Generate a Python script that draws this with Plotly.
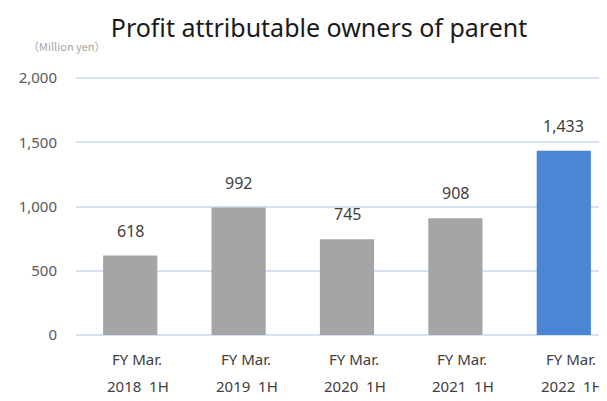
import plotly.graph_objects as go

categories = ["FY Mar. 2018 1H", "FY Mar. 2019 1H", "FY Mar. 2020 1H", "FY Mar. 2021 1H", "FY Mar. 2022 1H"]
label_line1 = ["FY Mar.", "FY Mar.", "FY Mar.", "FY Mar.", "FY Mar."]
label_line2 = ["2018  1H", "2019  1H", "2020  1H", "2021  1H", "2022  1H"]
values = [618, 992, 745, 908, 1433]
bar_colors = ["#a5a5a5", "#a5a5a5", "#a5a5a5", "#a5a5a5", "#4a86d4"]
y_ticks = [0, 500, 1000, 1500, 2000]
y_tick_text = ["0", "500", "1,000", "1,500", "2,000"]

FONT = "Noto Sans, Open Sans, Arial, sans-serif"

# the page body adds an 8px offset; work in window pixels minus that offset
OFF = 8
W, H = 607 - OFF, 401 - OFF
L, T, B = 76 - OFF, 67, 66
plot_h = H - T - B
y_top = plot_h / (257 / 2000)

fig = go.Figure()
fig.add_trace(go.Bar(
    x=categories, y=values,
    marker=dict(color=bar_colors, line=dict(width=0)),
    width=0.5,
    hoverinfo="skip",
))

annotations = []
for c, v in zip(categories, values):
    annotations.append(dict(
        x=c, y=v, xref="x", yref="y", text=f"{v:,}", showarrow=False,
        yanchor="middle", yshift=25,
        font=dict(family=FONT, size=16, color="#404040"),
    ))
for c, l1, l2 in zip(categories, label_line1, label_line2):
    annotations.append(dict(
        x=c, y=0, xref="x", yref="y", text=l1, showarrow=False,
        yanchor="middle", yshift=-24, xshift=7,
        font=dict(family=FONT, size=15, color="#404040"),
    ))
    annotations.append(dict(
        x=c, y=0, xref="x", yref="y", text=l2.replace(" ", "&nbsp;"), showarrow=False,
        yanchor="middle", yshift=-51, xshift=8,
        font=dict(family=FONT, size=15, color="#404040"),
    ))
annotations.append(dict(
    x=(26 - OFF - L) / (W - L), y=(H - B - (46 - OFF)) / plot_h,
    xref="paper", yref="paper", text="（Million yen）", showarrow=False,
    xanchor="left", yanchor="middle",
    font=dict(family="Noto Sans CJK JP, Noto Sans, sans-serif", size=11, color="#a6a6a6"),
))

fig.update_layout(
    width=W, height=H,
    margin=dict(l=L, r=0, t=T, b=B, pad=0),
    paper_bgcolor="white", plot_bgcolor="white",
    showlegend=False,
    title=dict(
        text="Profit attributable owners of parent",
        x=(319 - OFF) / W, xanchor="center", y=1 - (28 - OFF) / H, yanchor="middle",
        font=dict(family=FONT, size=25, color="#1a1a1a"),
    ),
    xaxis=dict(
        range=[-0.5, -0.5 + (W - L) / 108.4], showticklabels=False, showgrid=False,
        zeroline=False, showline=False, fixedrange=True,
    ),
    yaxis=dict(
        range=[0, y_top], tickvals=y_ticks, ticktext=y_tick_text,
        showgrid=True, gridcolor="#d6e2f3", gridwidth=1.5,
        zeroline=True, zerolinecolor="#d6e2f3", zerolinewidth=1.5,
        showline=False, ticks="", ticklabelstandoff=18,
        tickfont=dict(family=FONT, size=15, color="#595959"),
        fixedrange=True,
    ),
    annotations=annotations,
)

fig.write_html("out.html")
